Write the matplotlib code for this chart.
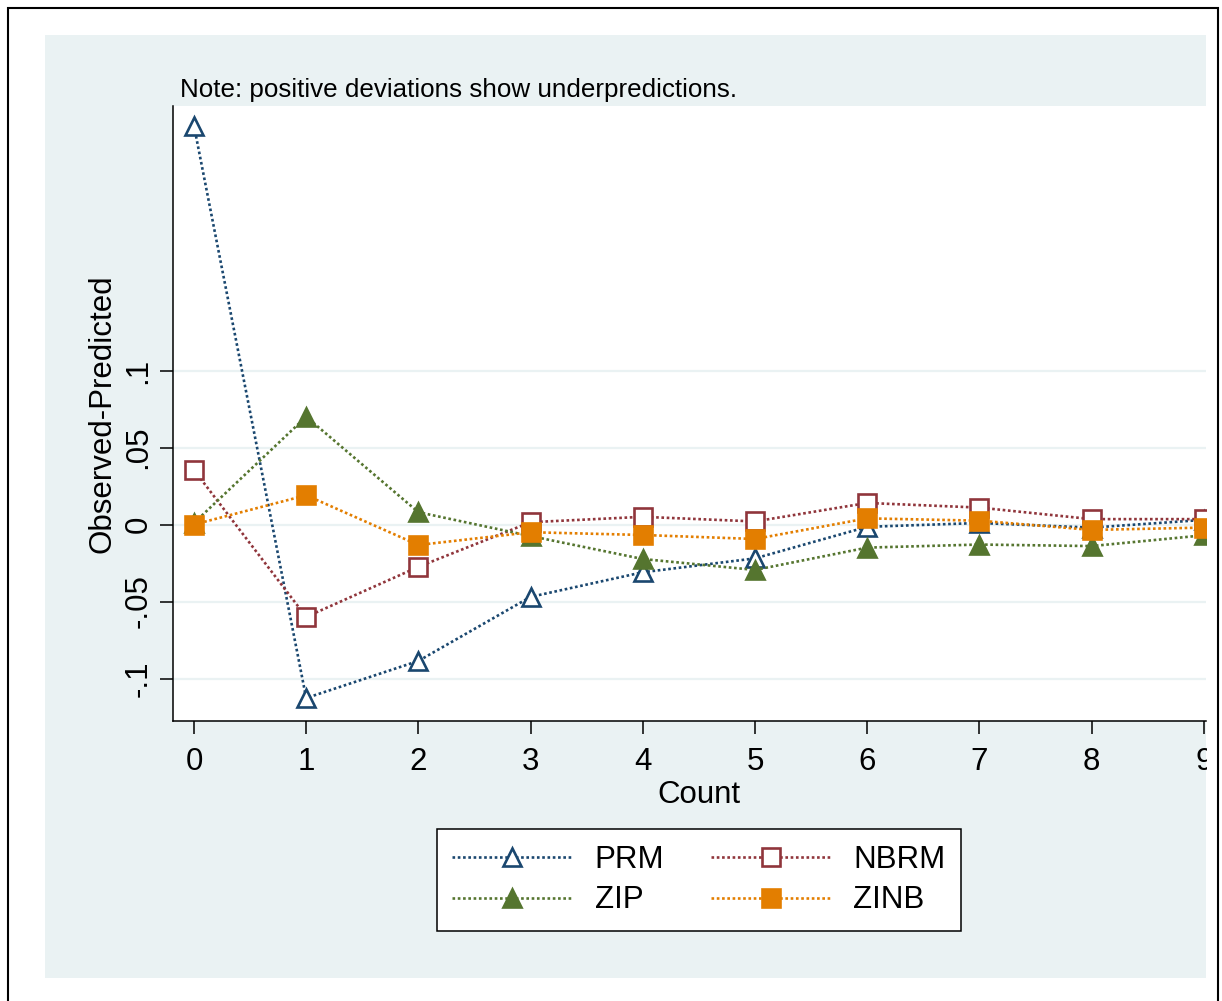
#!/usr/bin/env python3

import matplotlib
matplotlib.use('Agg')
import matplotlib.pyplot as plt
from matplotlib.patches import Rectangle

plt.rcParams['font.family'] = ['Liberation Sans', 'DejaVu Sans']

COUNTS = [0, 1, 2, 3, 4, 5, 6, 7, 8, 9]

PRM = [0.259, -0.1127, -0.0886, -0.047, -0.031, -0.022, -0.0015, 0.001, -0.002, 0.003]
NBRM = [0.0354, -0.060, -0.0275, 0.0015, 0.005, 0.002, 0.014, 0.011, 0.0035, 0.0035]
ZIP = [0.001, 0.070, 0.008, -0.0075, -0.0224, -0.0295, -0.015, -0.013, -0.014, -0.007]
ZINB = [0.0, 0.019, -0.0133, -0.005, -0.0068, -0.0094, 0.004, 0.0025, -0.0035, -0.002]

YTICKS = [-0.1, -0.05, 0, 0.05, 0.1]
YTICKLABELS = ['-.1', '-.05', '0', '.05', '.1']

NAVY = '#1a476f'
MAROON = '#90353b'
GREEN = '#55752f'
ORANGE = '#e37e00'
BG = '#eaf2f3'

W, H = 1222, 1001


def fx(px):
    return px / W


def fy(px):
    return (H - px) / H


def main():
    fig = plt.figure(figsize=(W / 100, H / 100), dpi=100)
    fig.patch.set_facecolor('white')

    # stata style light blue graph region
    fig.add_artist(Rectangle((fx(45), fy(978)), fx(1206) - fx(45), fy(35) - fy(978),
                             transform=fig.transFigure, facecolor=BG,
                             edgecolor='none', zorder=-1))

    ax = fig.add_axes([fx(173), fy(721), fx(1206) - fx(173), fy(106) - fy(721)])
    ax.set_facecolor('white')

    line_kw = dict(linestyle=(0, (1, 1)), linewidth=1.9, markersize=12.5,
                   markeredgewidth=1.9)
    series = [
        ('PRM', PRM, NAVY, '^', 'white'),
        ('NBRM', NBRM, MAROON, 's', 'white'),
        ('ZIP', ZIP, GREEN, '^', GREEN),
        ('ZINB', ZINB, ORANGE, 's', ORANGE),
    ]
    handles = {}
    for name, vals, col, mk, face in series:
        ln, = ax.plot(COUNTS, vals, color=col, marker=mk, markerfacecolor=face,
                      markeredgecolor=col, label=name, zorder=3, **line_kw)
        handles[name] = ln

    ax.set_xlim(-0.187, 9.02)
    ax.set_ylim(-0.1276, 0.2718)

    ax.set_xticks(COUNTS)
    ax.set_yticks(YTICKS)
    ax.set_yticklabels(YTICKLABELS)
    for y in YTICKS:
        ax.axhline(y, color=BG, linewidth=1.6, zorder=1)

    for side in ['top', 'right']:
        ax.spines[side].set_visible(False)
    for side in ['left', 'bottom']:
        ax.spines[side].set_linewidth(1.1)

    ax.tick_params(axis='both', direction='out', length=9.4, width=1.1,
                   labelsize=22.5)
    ax.tick_params(axis='x', pad=9.5)
    ax.tick_params(axis='y', pad=9.8)
    plt.setp(ax.get_yticklabels(), rotation=90, rotation_mode='anchor',
             ha='center', va='baseline')

    # axis titles
    fig.text(fx(699), fy(803), 'Count', fontsize=22.5, ha='center', va='baseline')
    fig.text(fx(111), fy(413.5), 'Observed-Predicted', fontsize=22.5, rotation=90,
             rotation_mode='anchor', ha='center', va='baseline')

    fig.text(fx(180), fy(97), 'Note: positive deviations show underpredictions.',
             fontsize=18.7, ha='left', va='baseline')

    leg = fig.legend([handles['PRM'], handles['ZIP'], handles['NBRM'], handles['ZINB']],
                     ['PRM', 'ZIP', 'NBRM', 'ZINB'],
                     ncol=2, loc='center', bbox_to_anchor=(fx(699), fy(880)),
                     fontsize=22.5, frameon=True, fancybox=False, framealpha=1,
                     edgecolor='black', handlelength=3.8, handletextpad=0.75,
                     columnspacing=1.5, borderpad=0.5, labelspacing=0.35)
    leg.get_frame().set_linewidth(1.1)

    # the plot region is cut off at the right edge of the graph
    fig.add_artist(Rectangle((fx(1206.5), 0), fx(1217) - fx(1206.5), 1,
                             transform=fig.transFigure, facecolor='white',
                             edgecolor='none', zorder=20))

    # outer frame
    fig.add_artist(Rectangle((fx(8), -0.01), fx(1218) - fx(8), fy(8) + 0.01,
                             transform=fig.transFigure, fill=False,
                             edgecolor='black', linewidth=1.5, zorder=21))

    fig.savefig('out.png', dpi=100)


if __name__ == "__main__":
    main()
